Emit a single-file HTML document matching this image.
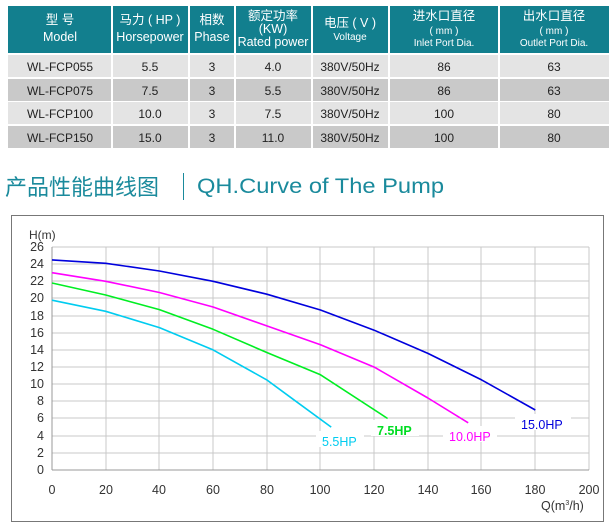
<!DOCTYPE html>
<html><head><meta charset="utf-8"><style>
html,body{margin:0;padding:0;background:#fff;}
svg{display:block;}
text{font-family:"Liberation Sans","Noto Sans CJK SC",sans-serif;}
</style></head><body>
<svg width="610" height="529" viewBox="0 0 610 529" xmlns="http://www.w3.org/2000/svg">
<g fill="#127f8e">
<rect x="8" y="6" width="103" height="47"/>
<rect x="113" y="6" width="75" height="47"/>
<rect x="190" y="6" width="44" height="47"/>
<rect x="236" y="6" width="75" height="47"/>
<rect x="313" y="6" width="75" height="47"/>
<rect x="390" y="6" width="108" height="47"/>
<rect x="500" y="6" width="109" height="47"/>
</g>
<g fill="#fff" text-anchor="middle" font-size="12.5">
<text x="60" y="24">型 号</text><text x="60" y="41">Model</text>
<text x="150" y="24">马力 ( HP )</text><text x="150" y="41">Horsepower</text>
<text x="212" y="24">相数</text><text x="212" y="41">Phase</text>
<text x="273" y="20">额定功率</text><text x="273" y="33">(KW)</text><text x="273" y="46">Rated power</text>
<text x="350" y="27">电压 ( V )</text><text x="350" y="40" font-size="10">Voltage</text>
<text x="444" y="20">进水口直径</text><text x="444" y="34" font-size="10">( mm )</text><text x="444" y="46" font-size="10">Inlet Port Dia.</text>
<text x="554" y="20">出水口直径</text><text x="554" y="34" font-size="10">( mm )</text><text x="554" y="46" font-size="10">Outlet Port Dia.</text>
</g>
<g>
<g fill="#e4e4e4"><rect x="8" y="55" width="601" height="22"/><rect x="8" y="102" width="601" height="22"/></g>
<g fill="#c9c9c9"><rect x="8" y="79" width="601" height="22"/><rect x="8" y="126" width="601" height="22"/></g>
<g fill="#fff"><rect x="111" y="55" width="2" height="93"/><rect x="188" y="55" width="2" height="93"/><rect x="234" y="55" width="2" height="93"/><rect x="311" y="55" width="2" height="93"/><rect x="388" y="55" width="2" height="93"/><rect x="498" y="55" width="2" height="93"/></g>
</g>
<g fill="#222" text-anchor="middle" font-size="12">
<text x="60" y="71">WL-FCP055</text><text x="150" y="71">5.5</text><text x="212" y="71">3</text><text x="273" y="71">4.0</text><text x="350" y="71">380V/50Hz</text><text x="444" y="71">86</text><text x="554" y="71">63</text>
<text x="60" y="95">WL-FCP075</text><text x="150" y="95">7.5</text><text x="212" y="95">3</text><text x="273" y="95">5.5</text><text x="350" y="95">380V/50Hz</text><text x="444" y="95">86</text><text x="554" y="95">63</text>
<text x="60" y="118">WL-FCP100</text><text x="150" y="118">10.0</text><text x="212" y="118">3</text><text x="273" y="118">7.5</text><text x="350" y="118">380V/50Hz</text><text x="444" y="118">100</text><text x="554" y="118">80</text>
<text x="60" y="142">WL-FCP150</text><text x="150" y="142">15.0</text><text x="212" y="142">3</text><text x="273" y="142">11.0</text><text x="350" y="142">380V/50Hz</text><text x="444" y="142">100</text><text x="554" y="142">80</text>
</g>
<text x="5" y="195" font-size="22" fill="#1a8a9c">产品性能曲线图</text>
<line x1="183.5" y1="173" x2="183.5" y2="200" stroke="#1a8a9c" stroke-width="1"/>
<text x="197" y="193" font-size="21" fill="#1a8a9c" textLength="247" lengthAdjust="spacingAndGlyphs">QH.Curve of The Pump</text>
<rect x="11.5" y="215.5" width="592" height="306" fill="#fff" stroke="#777" stroke-width="1"/>
<g stroke="#c8c8c8" stroke-width="1">
<line x1="52" y1="247" x2="589" y2="247"/><line x1="52" y1="264" x2="589" y2="264"/><line x1="52" y1="281" x2="589" y2="281"/><line x1="52" y1="298" x2="589" y2="298"/><line x1="52" y1="316" x2="589" y2="316"/><line x1="52" y1="333" x2="589" y2="333"/><line x1="52" y1="350" x2="589" y2="350"/><line x1="52" y1="367" x2="589" y2="367"/><line x1="52" y1="384" x2="589" y2="384"/><line x1="52" y1="401" x2="589" y2="401"/><line x1="52" y1="418" x2="589" y2="418"/><line x1="52" y1="436" x2="589" y2="436"/><line x1="52" y1="453" x2="589" y2="453"/>
<line x1="106" y1="247" x2="106" y2="470"/><line x1="159" y1="247" x2="159" y2="470"/><line x1="213" y1="247" x2="213" y2="470"/><line x1="267" y1="247" x2="267" y2="470"/><line x1="320" y1="247" x2="320" y2="470"/><line x1="374" y1="247" x2="374" y2="470"/><line x1="428" y1="247" x2="428" y2="470"/><line x1="481" y1="247" x2="481" y2="470"/><line x1="535" y1="247" x2="535" y2="470"/><line x1="589" y1="247" x2="589" y2="470"/>
</g>
<g stroke="#999" stroke-width="1"><line x1="52" y1="247" x2="52" y2="470"/><line x1="52" y1="470" x2="589" y2="470"/></g>
<g font-size="12.5" fill="#333" text-anchor="end">
<text x="44" y="474">0</text><text x="44" y="457">2</text><text x="44" y="440">4</text><text x="44" y="422">6</text><text x="44" y="405">8</text><text x="44" y="388">10</text><text x="44" y="371">12</text><text x="44" y="354">14</text><text x="44" y="337">16</text><text x="44" y="320">18</text><text x="44" y="302">20</text><text x="44" y="285">22</text><text x="44" y="268">24</text><text x="44" y="251">26</text>
</g>
<text x="29" y="239" font-size="12" fill="#333">H(m)</text>
<g font-size="12.5" fill="#333" text-anchor="middle">
<text x="52" y="494">0</text><text x="106" y="494">20</text><text x="159" y="494">40</text><text x="213" y="494">60</text><text x="267" y="494">80</text><text x="320" y="494">100</text><text x="374" y="494">120</text><text x="428" y="494">140</text><text x="481" y="494">160</text><text x="535" y="494">180</text><text x="589" y="494">200</text>
</g>
<text x="541" y="510" font-size="12.5" fill="#333">Q(m<tspan font-size="7" dy="-5">3</tspan><tspan dy="5">/h)</tspan></text>
<g fill="none" stroke-width="1.6" stroke-linejoin="round">
<polyline stroke="#0000dd" points="52,259.9 105.7,263.3 159.4,271 213.1,281.3 266.8,294.2 320.5,310 374.2,330.2 427.9,353.4 481.6,379.9 535.3,410"/>
<polyline stroke="#ff00ff" points="52,272.7 105.7,281.3 159.4,292.5 213.1,307 266.8,325.9 320.5,344.8 374.2,367.1 427.9,398 468.2,422.8"/>
<polyline stroke="#00ee22" points="52,283 105.7,295 159.4,309.6 213.1,329.3 266.8,352.5 320.5,374.8 387.6,418.5"/>
<polyline stroke="#00ccf0" points="52,300.2 105.7,311.3 159.4,327.6 213.1,349.9 266.8,379.9 293.7,399.7 331.2,427.1"/>
</g>
<g font-size="12.5">
<rect x="316" y="431" width="48" height="16" fill="#fff"/><text x="322" y="446" fill="#00ccf0">5.5HP</text>
<rect x="371" y="420" width="48" height="16" fill="#fff"/><text x="377" y="435" fill="#00dd22" font-weight="bold">7.5HP</text>
<rect x="443" y="426" width="54" height="16" fill="#fff"/><text x="449" y="441" fill="#ff00ff">10.0HP</text>
<rect x="515" y="414" width="56" height="16" fill="#fff"/><text x="521" y="429" fill="#0000dd">15.0HP</text>
</g>
</svg>
</body></html>
